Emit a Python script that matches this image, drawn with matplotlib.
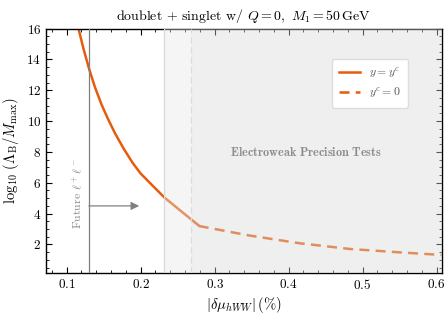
import numpy as np
import matplotlib
matplotlib.use("Agg")
import matplotlib.pyplot as plt
from matplotlib.ticker import MultipleLocator

plt.rcParams['font.family'] = 'serif'
plt.rcParams['font.serif'] = ['cmr10', 'DejaVu Serif']
plt.rcParams['mathtext.fontset'] = 'cm'
plt.rcParams['axes.formatter.use_mathtext'] = True

# curve: y = y^c branch (solid) and y^c = 0 branch (dashed)
solid_x = [0.1157, 0.1224, 0.1305, 0.1382, 0.1473, 0.1562, 0.1652, 0.1772,
           0.1893, 0.2, 0.2119, 0.2322, 0.2569, 0.2785]
solid_y = [16.05, 14.74, 13.35, 12.2, 11.05, 10.1, 9.22, 8.2,
           7.28, 6.6, 6.02, 5.04, 4.07, 3.23]
dashed_x = [0.2785, 0.347, 0.4146, 0.4822, 0.5497, 0.6068]
dashed_y = [3.2, 2.58, 2.08, 1.71, 1.49, 1.32]

future_x = 0.13        # future l+l- reach
ewpt_soft = 0.2315     # start of light EWPT band
ewpt_hard = 0.268      # start of EWPT exclusion

orange = '#e65c0d'

fig = plt.figure(figsize=(4.44, 3.14), dpi=100)
ax = fig.add_axes([0.1036, 0.1306, 0.8912, 0.7784])

ax.plot(solid_x, solid_y, color=orange, lw=1.8, zorder=2, label=r'$y = y^c$',
        solid_joinstyle='round')
ax.plot(dashed_x, dashed_y, color=orange, lw=1.8, ls=(0, (4, 2.5)), zorder=2,
        label=r'$y^c = 0$')

ax.axvspan(ewpt_soft, ewpt_hard, color='0.9', alpha=0.4, lw=0, zorder=3)
ax.axvspan(ewpt_hard, 0.62, color='0.85', alpha=0.4, lw=0, zorder=3)
ax.axvline(ewpt_soft, color='#d8d8d8', lw=0.9, zorder=3)
ax.axvline(ewpt_hard, color='#dcdcdc', lw=0.9, ls=(0, (5, 3)), zorder=3)
ax.axvline(future_x, color='#808080', lw=0.9, zorder=4)

ax.annotate('', xy=(0.198, 4.5), xytext=(future_x, 4.5),
            arrowprops=dict(arrowstyle='-|>', color='#808080', lw=0.9,
                            mutation_scale=12, shrinkA=0, shrinkB=0), zorder=4)
ax.text(0.1146, 5.3, r'Future $\ell^+\ell^-$', rotation=90, color='#8a8a8a',
        fontsize=8.5, ha='center', va='center', zorder=4)
ax.text(0.424, 7.95, r'$\mathbf{Electroweak\ Precision\ Tests}$', color='#8c8c8c',
        fontsize=8.8, ha='center', va='center', zorder=4)

ax.set_xlim(0.072, 0.607)
ax.set_ylim(0.15, 16)
ax.xaxis.set_major_locator(MultipleLocator(0.1))
ax.xaxis.set_minor_locator(MultipleLocator(0.02))
ax.yaxis.set_major_locator(MultipleLocator(2))
ax.yaxis.set_minor_locator(MultipleLocator(0.5))
ax.set_yticks([2, 4, 6, 8, 10, 12, 14, 16])
ax.tick_params(which='both', direction='in', top=True, right=True, labelsize=9.5)
ax.tick_params(which='major', length=4, width=0.8)
ax.tick_params(which='minor', length=2, width=0.6)
for s in ax.spines.values():
    s.set_linewidth(1.0)

ax.set_title(r'doublet + singlet w/ $Q = 0,\ M_1 = 50\,\mathrm{GeV}$', fontsize=10, pad=6)
ax.set_xlabel(r'$|\delta\mu_{hWW}|\,(\%)$', fontsize=10.5, labelpad=2)
ax.set_ylabel(r'$\log_{10}\,(\Lambda_{\rm B}/M_{\rm max})$', fontsize=10.5, labelpad=4)

leg = ax.legend(loc='upper right', bbox_to_anchor=(0.93, 0.90), fontsize=8.5,
                handlelength=1.8, frameon=True, fancybox=True, framealpha=1,
                edgecolor='#dddddd', borderpad=0.6, labelspacing=0.4)
leg.set_zorder(5)
for t in leg.get_texts():
    t.set_color('#555555')

fig.savefig('out.png', dpi=100)
